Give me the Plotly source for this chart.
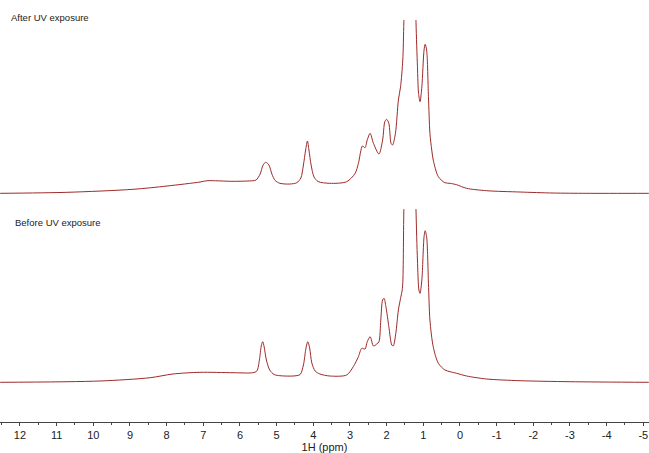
import plotly.graph_objects as go

# ppm positions and intensities (arbitrary units)
after_ppm = [12.54, 10.72, 8.92, 7.99, 7.09, 6.90, 6.19, 5.65, 5.56, 5.45, 5.37, 5.30, 5.21, 5.13, 5.04,
             4.91, 4.64, 4.45, 4.34, 4.27, 4.21, 4.16, 4.12, 4.06, 3.98, 3.87, 3.55, 3.09, 2.86, 2.77,
             2.66, 2.59, 2.53, 2.45, 2.36, 2.21, 2.11, 2.05, 2.00, 1.94, 1.88, 1.84, 1.76, 1.68, 1.62,
             1.56, 1.53, 1.43, 1.36, 1.28, 1.20, 1.16, 1.13, 1.09, 1.04, 0.98, 0.95, 0.91, 0.86, 0.82,
             0.77, 0.73, 0.59, 0.41, 0.27, 0.09, -0.18, -0.73, -1.64, -2.54, -3.46, -5.15]
after_int = [6.7, 7.7, 10.7, 14, 18, 19.3, 18.7, 19.3, 20, 26, 35, 37.7, 35, 26, 19.5,
             16.7, 16, 17.3, 22, 35, 50, 59, 50, 35, 23, 18.5, 16.7, 18.3, 26.7, 36.7,
             54, 52.3, 60, 66.7, 56.7, 46, 60, 78.3, 80.7, 76.7, 56.7, 55, 66.7, 100, 113.3,
             140, 178.7, 300, 360, 320, 178.7, 133.3, 106.7, 98.3, 113.3, 150, 155.7, 150, 103.3, 66.7,
             50, 40, 23.3, 17.3, 16.7, 15.3, 11.7, 9.3, 8, 7, 6.7, 6.7]

before_ppm = [12.54, 9.82, 8.45, 7.83, 7.09, 6.19, 5.65, 5.54, 5.47, 5.42, 5.38, 5.34, 5.28, 5.19, 5.07,
              4.91, 4.55, 4.36, 4.27, 4.20, 4.15, 4.10, 4.04, 3.95, 3.82, 3.55, 3.09, 2.91, 2.77, 2.68,
              2.59, 2.53, 2.45, 2.36, 2.27, 2.21, 2.16, 2.11, 2.07, 2.02, 1.94, 1.86, 1.82, 1.75, 1.68,
              1.62, 1.57, 1.53, 1.43, 1.36, 1.28, 1.20, 1.16, 1.12, 1.09, 1.04, 0.98, 0.95, 0.91, 0.86,
              0.82, 0.73, 0.59, 0.41, 0.27, 0.09, -0.18, -0.73, -1.64, -3.00, -5.15]
before_int = [39.7, 41, 44.3, 48, 49.7, 49.3, 49.3, 51, 62, 76, 80.3, 75, 62, 52, 47.5,
              46.3, 46, 47.5, 57, 74, 80.3, 74, 59, 51, 48, 46, 47, 55.3, 65.3, 73.7,
              73, 80.3, 85.3, 76, 78, 80.3, 102, 122, 123.7, 115.3, 95.3, 77, 76, 88.7, 112,
              123.7, 133.7, 212.7, 350, 420, 380, 212.7, 162, 132, 128.7, 142, 185.3, 191.3, 185.3, 138.7,
              102, 75.3, 58.7, 52, 50.3, 48.7, 46, 43, 41.3, 40.3, 39.7]

tick_values = [12, 11, 10, 9, 8, 7, 6, 5, 4, 3, 2, 1, 0, -1, -2, -3, -4, -5]
tick_labels = ["12", "11", "10", "9", "8", "7", "6", "5", "4", "3", "2", "1", "0",
               "-1", "-2", "-3", "-4", "-5"]

panel_labels = ["After UV exposure", "Before UV exposure"]
x_title = "1H (ppm)"

line_color = "#9e2a2a"

fig = go.Figure()
fig.add_trace(go.Scatter(x=after_ppm, y=after_int, mode="lines", xaxis="x", yaxis="y2",
                         line=dict(color=line_color, width=1, shape="spline", smoothing=0.8),
                         showlegend=False, hoverinfo="skip"))
fig.add_trace(go.Scatter(x=before_ppm, y=before_int, mode="lines", xaxis="x", yaxis="y",
                         line=dict(color=line_color, width=1, shape="spline", smoothing=0.8),
                         showlegend=False, hoverinfo="skip"))

fig.update_layout(
    width=649, height=453,
    margin=dict(l=0, r=0, t=0, b=31),
    paper_bgcolor="white", plot_bgcolor="white",
    font=dict(family="Liberation Sans", size=11, color="#222"),
    xaxis=dict(range=[12.545, -5.155], tickmode="array", tickvals=tick_values, ticktext=tick_labels,
               showgrid=False, zeroline=False,
               showline=True, linecolor="#444", linewidth=1,
               ticks="outside", ticklen=3, tickcolor="#444",
               minor=dict(dtick=0.5, tick0=0.5, ticks="outside", ticklen=2, tickcolor="#444"),
               tickfont=dict(family="Liberation Sans", size=11, color="#222"),
               title=dict(text=x_title, standoff=1, font=dict(family="Liberation Sans", size=11, color="#222"))),
    yaxis=dict(domain=[0, 0.5047], range=[0, 213], visible=False),
    yaxis2=dict(domain=[0.526, 0.9526], range=[0, 180], visible=False),
    annotations=[
        dict(text=panel_labels[0], xref="paper", yref="paper", x=0.0139, y=0.9597,
             xanchor="left", yanchor="middle", showarrow=False,
             font=dict(family="Liberation Sans", size=9.5, color="#222")),
        dict(text=panel_labels[1], xref="paper", yref="paper", x=0.0205, y=0.4716,
             xanchor="left", yanchor="middle", showarrow=False,
             font=dict(family="Liberation Sans", size=9.5, color="#222")),
    ],
)

fig.write_html("out.html", config={"displayModeBar": False},
               post_script="document.body.style.margin='0';document.body.style.overflow='hidden';")
